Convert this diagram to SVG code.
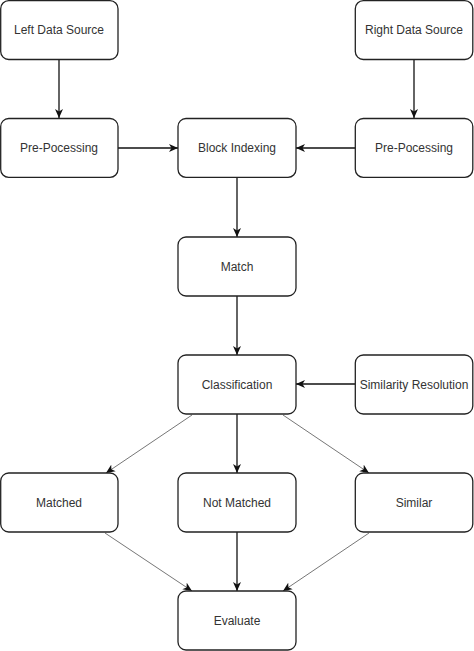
<svg xmlns="http://www.w3.org/2000/svg" width="474" height="651" viewBox="0 0 474 651">
<style>
.node rect{fill:#fff;stroke:#222;stroke-width:1.3}
.node text{font-family:"Liberation Sans",Arial,sans-serif;font-size:12px;fill:#333;text-anchor:middle;dominant-baseline:central}
.c{stroke:#111;stroke-width:1.3;fill:none;marker-end:url(#ah)}
.d{stroke:#777;stroke-width:1;fill:none;marker-end:url(#ah)}
</style>
<defs>
<marker id="ah" markerUnits="userSpaceOnUse" markerWidth="10" markerHeight="9" refX="9" refY="4.5" orient="auto">
<path d="M0,0.5 L9,4.5 L0,8.5 L2.5,4.5 z" fill="#111"/>
</marker>
</defs>
<g id="connectors">
<line class="c" x1="59" y1="59.5" x2="59" y2="118"/>
<line class="c" x1="414" y1="59.5" x2="414" y2="118"/>
<line class="c" x1="118" y1="148" x2="178" y2="148"/>
<line class="c" x1="355" y1="148" x2="296" y2="148"/>
<line class="c" x1="237" y1="177.5" x2="237" y2="237"/>
<line class="c" x1="237" y1="296" x2="237" y2="355"/>
<line class="c" x1="355" y1="384" x2="296" y2="384"/>
<line class="c" x1="237" y1="414" x2="237" y2="473"/>
<line class="d" x1="192" y1="415" x2="106" y2="473"/>
<line class="d" x1="283" y1="415" x2="369" y2="473"/>
<line class="c" x1="237" y1="532" x2="237" y2="591"/>
<line class="d" x1="105" y1="533" x2="192" y2="591"/>
<line class="d" x1="369" y1="533" x2="283" y2="591"/>
</g>
<g id="left-data-source" class="node"><rect x="0.7" y="0.7" width="117.3" height="58.8" rx="8"/><text x="59" y="30">Left Data Source</text></g>
<g id="right-data-source" class="node"><rect x="355.3" y="0.7" width="117.5" height="58.8" rx="8"/><text x="414" y="30">Right Data Source</text></g>
<g id="pre-processing-left" class="node"><rect x="0.7" y="118.5" width="117.3" height="58.8" rx="8"/><text x="59" y="148">Pre-Pocessing</text></g>
<g id="block-indexing" class="node"><rect x="178" y="118.5" width="118" height="58.8" rx="8"/><text x="237" y="148">Block Indexing</text></g>
<g id="pre-processing-right" class="node"><rect x="355.3" y="118.5" width="117.5" height="58.8" rx="8"/><text x="414" y="148">Pre-Pocessing</text></g>
<g id="match" class="node"><rect x="178" y="237" width="118" height="59" rx="8"/><text x="237" y="266.5">Match</text></g>
<g id="classification" class="node"><rect x="178" y="355" width="118" height="59" rx="8"/><text x="237" y="384.5">Classification</text></g>
<g id="similarity-resolution" class="node"><rect x="355.3" y="355" width="117.5" height="59" rx="8"/><text x="414" y="384.5">Similarity Resolution</text></g>
<g id="matched" class="node"><rect x="0.7" y="473" width="117.3" height="59" rx="8"/><text x="59" y="502.5">Matched</text></g>
<g id="not-matched" class="node"><rect x="178" y="473" width="118" height="59" rx="8"/><text x="237" y="502.5">Not Matched</text></g>
<g id="similar" class="node"><rect x="355.3" y="473" width="117.5" height="59" rx="8"/><text x="414" y="502.5">Similar</text></g>
<g id="evaluate" class="node"><rect x="178" y="591" width="118" height="59" rx="8"/><text x="237" y="620.5">Evaluate</text></g>
</svg>
